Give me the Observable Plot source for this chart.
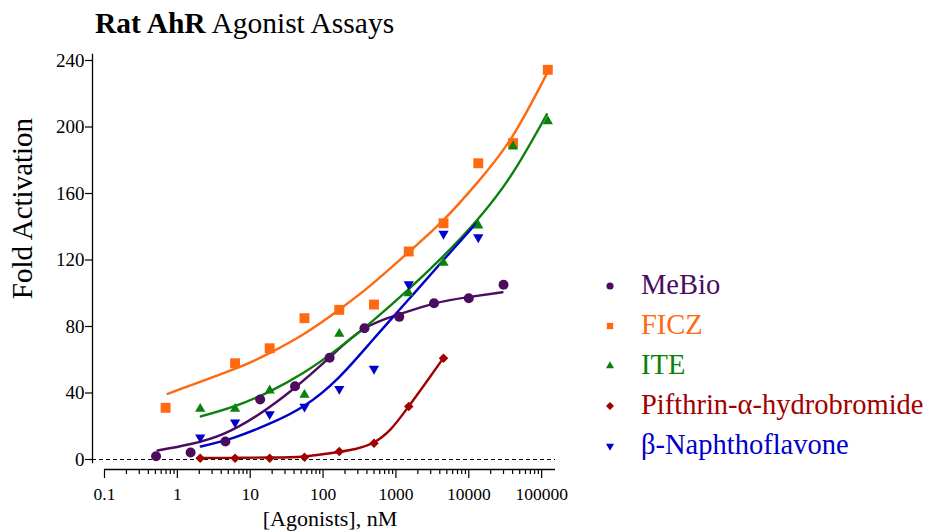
<!DOCTYPE html>
<html>
<head>
<meta charset="utf-8">
<script src="https://cdn.jsdelivr.net/npm/d3@7"></script>
<script src="https://cdn.jsdelivr.net/npm/@observablehq/plot@0.6"></script>
<style>
  html, body { margin: 0; padding: 0; background: #fff; }
  #wrap { position: relative; width: 927px; height: 531px; overflow: hidden;
          font-family: "Liberation Serif", "Times New Roman", serif; background: #fff; }
  #chart { position: absolute; left: 0; top: 0; }
  #title { position: absolute; left: 95px; top: 9px; font-size: 29.5px; line-height: 29.5px; color: #000; white-space: nowrap; }
  #legend { position: absolute; left: 600px; top: 265px; }
  .row { position: relative; height: 40px; width: 327px; }
  .row svg { position: absolute; left: 3px; top: 13.5px; }
  .row span { position: absolute; left: 41px; top: 0; font-size: 28.5px; line-height: 40px; white-space: nowrap; }
</style>
</head>
<body>
<div id="wrap">
  <div id="chart"></div>
  <div id="title"><b>Rat AhR</b> Agonist Assays</div>
  <div id="legend"></div>
</div>
<script>
// ---------- axes ----------
const xDomain = [0.1, 155000];
const yDomain = [0, 240];
const yTicks = [0, 40, 80, 120, 160, 200, 240];
const xMajorTicks = [0.1, 1, 10, 100, 1000, 10000, 100000];
const xTickLabels = ["0.1", "1", "10", "100", "1000", "10000", "100000"];
const minorMultipliers = [2, 3, 4, 5, 6, 7, 8, 9];
const xLabel = "[Agonists], nM";
const yLabel = "Fold Activation";

// ---------- series ----------
const seriesNames = ["MeBio", "FICZ", "ITE", "Pifthrin-α-hydrobromide", "β-Naphthoflavone"];

// measured points (concentration nM, fold activation)
const mebioConc = [0.51, 1.52, 4.57, 13.7, 41.2, 123, 370, 1111, 3333, 10000, 30000];
const mebioFold = [2.0, 4.2, 10.8, 36.1, 44.1, 61.2, 79.0, 85.8, 94.0, 97.0, 105.1];
const ficzConc = [0.69, 6.2, 18.5, 55.6, 167, 500, 1500, 4500, 13500, 40500, 121500];
const ficzFold = [31.1, 57.9, 66.9, 85.0, 90.0, 93.2, 125.1, 142.1, 178.2, 190.3, 234.4];
const iteConc = [2.06, 6.2, 18.5, 55.6, 167, 1500, 4500, 13500, 40500, 121500];
const iteFold = [30.5, 30.5, 41.5, 38.9, 75.6, 100.0, 118.3, 140.8, 188.3, 203.5];
const pifConc = [2.06, 6.2, 18.5, 55.6, 167, 500, 1500, 4500];
const pifFold = [0.8, 0.8, 0.8, 1.4, 4.8, 9.8, 31.9, 60.9];
const bnfConc = [2.06, 6.2, 18.5, 55.6, 167, 500, 1500, 4500, 13500];
const bnfFold = [13.3, 22.3, 27.3, 31.8, 42.5, 54.6, 105.4, 135.8, 133.7];

// fitted curves
const mebioFitConc = [0.536, 1.53, 4.38, 13.1, 39.8, 123, 362, 1092, 3296, 9840, 29000];
const mebioFitFold = [5.4, 9.3, 15.6, 27.1, 42.7, 61.4, 78.5, 87.2, 93.8, 97.7, 100.6];
const ficzFitConc = [0.734, 6.0, 18.1, 54.6, 164, 480, 1450, 4370, 13200, 39500, 118000];
const ficzFitFold = [39.5, 54.3, 63.8, 75.5, 89.9, 105.8, 124.2, 143.5, 166.7, 194.2, 232.1];
const iteFitConc = [2.1, 6.0, 18.1, 54.6, 164, 480, 1450, 4370, 13200, 39500, 118000];
const iteFitFold = [25.9, 31.9, 40.7, 52.3, 67.0, 83.4, 101.9, 121.9, 144.4, 171.9, 207.7];
const pifFitConc = [1.99, 6.0, 18.1, 54.6, 164, 279, 480, 850, 1460, 2560, 4450];
const pifFitFold = [0.9, 1.0, 1.2, 1.8, 4.5, 6.3, 9.9, 18.3, 31.3, 46.0, 60.8];
const bnfFitConc = [2.1, 6.0, 18.1, 54.6, 164, 480, 1450, 4370, 12700];
const bnfFitFold = [7.8, 13.2, 21.4, 32.2, 49.3, 71.9, 95.6, 119.4, 142.1];

// ---------- styles ----------
const seriesColors = ["#4b0c5f", "#ff6a10", "#0b800b", "#a10000", "#0000cc"];
const seriesSymbols = ["circle", "square", "triangle", "diamond2", "triangle"];
const seriesRotate = [0, 0, 0, 0, 180];
const seriesR = [5.0, 5.6, 3.8, 4.3, 3.8];

const pointConc = [mebioConc, ficzConc, iteConc, pifConc, bnfConc];
const pointFold = [mebioFold, ficzFold, iteFold, pifFold, bnfFold];
const fitConc = [mebioFitConc, ficzFitConc, iteFitConc, pifFitConc, bnfFitConc];
const fitFold = [mebioFitFold, ficzFitFold, iteFitFold, pifFitFold, bnfFitFold];

const xMinorTicks = xMajorTicks.flatMap(d => minorMultipliers.map(k => k * d)).filter(v => v <= xDomain[1]);

const curveMarks = seriesNames.map((name, i) =>
  Plot.line(fitConc[i].map((c, j) => ({x: c, y: fitFold[i][j]})),
    {x: "x", y: "y", stroke: seriesColors[i], strokeWidth: 2.4, curve: "natural"}));
const dotMarks = seriesNames.map((name, i) =>
  Plot.dot(pointConc[i].map((c, j) => ({x: c, y: pointFold[i][j]})),
    {x: "x", y: "y", fill: seriesColors[i], stroke: "none", symbol: () => seriesSymbols[i],
     r: seriesR[i], rotate: seriesRotate[i]}));

const chart = Plot.plot({
  width: 600,
  height: 531,
  marginLeft: 92,
  marginRight: 45,
  marginTop: 60,
  marginBottom: 72,
  x: {type: "log", domain: xDomain, insetLeft: 12},
  y: {domain: yDomain},
  symbol: {type: "identity"},
  style: {fontFamily: "'Liberation Serif', 'Times New Roman', serif", color: "#000", background: "#fff"},
  marks: [
    Plot.ruleY([0], {stroke: "#000", strokeWidth: 1, strokeDasharray: "4,3"}),
    Plot.frame({anchor: "left", stroke: "#000", strokeWidth: 1.3, insetTop: -6, insetBottom: -3}),
    Plot.axisY({ticks: yTicks, tickSize: 7, tickPadding: 1, fontSize: 19, label: null, strokeWidth: 1.2}),
    Plot.ruleY([0], {x1: xDomain[0], x2: xDomain[1], dy: 10, stroke: "#000", strokeWidth: 1.3}),
    Plot.axisX({ticks: xMinorTicks, tickSize: 5, tickFormat: () => "", dy: 10, label: null, strokeWidth: 1.2}),
    Plot.axisX({ticks: xMajorTicks, tickSize: 9, tickPadding: 9.5, dy: 10, fontSize: 17.5,
                tickFormat: d => xTickLabels[xMajorTicks.indexOf(d)], label: null, strokeWidth: 1.2}),
    Plot.text([yLabel], {text: d => d, frameAnchor: "left", dx: -70, dy: -51.5, rotate: -90,
                         fontSize: 29, textAnchor: "middle", lineAnchor: "middle", fill: "#000"}),
    Plot.text([xLabel], {text: d => d, frameAnchor: "bottom", dx: 6, dy: 59,
                         fontSize: 22, textAnchor: "middle", lineAnchor: "middle", fill: "#000"}),
    ...curveMarks,
    ...dotMarks
  ]
});
document.getElementById("chart").appendChild(chart);

// ---------- legend ----------
const legend = d3.select("#legend");
const symbolTypes = {circle: d3.symbolCircle, square: d3.symbolSquare, triangle: d3.symbolTriangle, diamond2: d3.symbolDiamond2};
seriesNames.forEach((name, i) => {
  const row = legend.append("div").attr("class", "row");
  const svg = row.append("svg").attr("width", 14).attr("height", 14);
  svg.append("path")
    .attr("d", d3.symbol(symbolTypes[seriesSymbols[i]], i === 2 || i === 4 ? 28 : 40)())
    .attr("transform", `translate(7,7) rotate(${seriesRotate[i]})`)
    .attr("fill", seriesColors[i]);
  row.append("span").style("color", seriesColors[i]).text(name);
});
</script>
</body>
</html>
